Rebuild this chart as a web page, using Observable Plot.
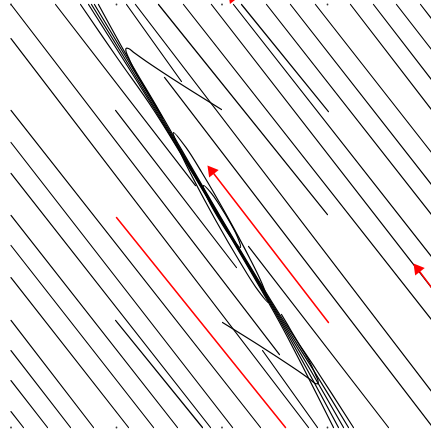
<!DOCTYPE html>
<html>
<head>
<meta charset="utf-8">
<script src="https://cdn.jsdelivr.net/npm/d3@7"></script>
<script src="https://cdn.jsdelivr.net/npm/@observablehq/plot@0.6"></script>
<style>
  html, body { margin: 0; padding: 0; background: #fff; }
  #chart svg { display: block; }
</style>
</head>
<body>
<div id="chart"></div>
<script>
// Streamlines, in data units (axes span -2..2 both ways).
// Left family (flow down-right), each a list of [x, y] points.
const leftFamily = [
  [[-2, -1.849], [-1.882, -2]],
  [[-2, -1.556], [-1.654, -2]],
  [[-2, -1.272], [-1.436, -2]],
  [[-2, -0.988], [-1.218, -2]],
  [[-2, -0.582], [-0.886, -2]],
  [[-2, -0.279], [-0.649, -2]],
  [[-2, 0.005], [-0.422, -2]],
  [[-1.009, -0.988], [-0.185, -2]],
  [[-2, 0.402], [-0.109, -2]],
  [[-2, 0.695], [0.100, -2]],
  [[-2, 0.998], [0.365, -2]],
  [[-2, 1.678], [0.820, -2]],
  [[0.384, -1.272], [0.905, -2]],
  [[-2, 2], [0.545, -1.310]],
  [[-1.009, 0.998], [0.137, -0.487]],
  [[-1.578, 2], [-0.251, 0.288]]
];
// Right family (flow up-left)
const rightFamily = [
  [[2, 1.849], [1.882, 2]],
  [[2, 1.556], [1.654, 2]],
  [[2, 1.272], [1.436, 2]],
  [[2, 0.988], [1.218, 2]],
  [[2, 0.582], [0.886, 2]],
  [[2, 0.279], [0.649, 2]],
  [[2, -0.005], [0.422, 2]],
  [[1.009, 0.988], [0.185, 2]],
  [[2, -0.402], [0.109, 2]],
  [[2, -0.695], [-0.100, 2]],
  [[2, -0.998], [-0.365, 2]],
  [[1.000, 0.014], [-0.602, 2]],
  [[2, -1.678], [-0.820, 2]],
  [[-0.384, 1.272], [-0.905, 2]],
  [[2, -2], [-0.545, 1.310]],
  [[1.578, -2], [0.251, -0.288]]
];
// Hairpin turns at the two ends of the central bundle
const hairpins = [
  [[-0.005, 1.007], [-0.384, 1.243], [-0.716, 1.461], [-0.829, 1.541], [-0.886, 1.584], [-0.910, 1.584],
   [-0.910, 1.556], [-0.886, 1.499], [-0.829, 1.376], [-0.744, 1.234], [-0.659, 1.092], [-0.564, 0.931]],
  [[0.005, -1.007], [0.384, -1.243], [0.716, -1.461], [0.829, -1.541], [0.886, -1.584], [0.910, -1.584],
   [0.910, -1.556], [0.886, -1.499], [0.829, -1.376], [0.744, -1.234], [0.659, -1.092], [0.564, -0.931]]
];
// Central bundle of converging lines
const bundle = [
  [[-1.341, 2], [-0.979, 1.475], [-0.645, 0.998], [-0.038, 0], [0.536, -0.988], [0.784, -1.461], [1.057, -2]],
  [[-1.265, 2], [-0.932, 1.475], [-0.633, 0.998], [-0.033, 0], [0.548, -0.988], [0.812, -1.461], [1.104, -2]],
  [[-1.237, 2], [-0.913, 1.475], [-0.622, 0.998], [-0.028, 0], [0.559, -0.988], [0.841, -1.461], [1.152, -2]],
  [[-1.209, 2], [-0.894, 1.475], [-0.610, 0.998], [-0.024, 0], [0.571, -0.988], [0.869, -1.461], [1.199, -2]],
  [[-1.171, 2], [-0.880, 1.475], [-0.598, 0.998], [-0.019, 0], [0.583, -0.988], [0.898, -1.461], [1.246, -2]]
];
// Closed thin orbits around the centre
const loops = [
  [[-0.460, 0.790], [-0.340, 0.646], [-0.191, 0.411], [0.040, 0.013], [0.259, -0.392], [0.380, -0.640],
   [0.441, -0.818], [0.321, -0.674], [0.173, -0.440], [-0.059, -0.042], [-0.278, 0.364], [-0.399, 0.612]],
  [[-0.175, 0.288], [-0.100, 0.215], [0.032, 0.014], [0.146, -0.196],
   [0.175, -0.298], [0.100, -0.224], [-0.032, -0.024], [-0.146, 0.186]]
];
// Highlighted trajectories
const redPaths = [
  [[-1.000, -0.014], [0.602, -2]],
  [[1.009, -1.007], [-0.077, 0.399]],
  [[2, -0.695], [1.876, -0.528]]
];
// Arrow heads: [x, y, angle in degrees]
const redHeads = [
  [-0.097, 0.426, -38],
  [1.856, -0.501, -38],
  [0.100, 2.066, -38]
];
const xTicks = [-2, -1, 0, 1, 2];
const tickRows = [2, -2];

const rows = (paths) => paths.flatMap((p, i) => p.map(([x, y]) => ({x, y, id: i})));

const chart = Plot.plot({
  width: 431,
  height: 431,
  marginLeft: 10,
  marginTop: 4,
  marginBottom: 4,
  marginRight: 0,
  x: {domain: [-2, 2], range: [10.5, 432.5], axis: null},
  y: {domain: [-2, 2], range: [427, 4], axis: null},
  marks: [
    Plot.line(rows(leftFamily.concat(rightFamily)), {x: "x", y: "y", z: "id", stroke: "black", strokeWidth: 1.2}),
    Plot.line(rows(bundle), {x: "x", y: "y", z: "id", stroke: "black", strokeWidth: 1.2, curve: "catmull-rom"}),
    Plot.line(rows(hairpins), {x: "x", y: "y", z: "id", stroke: "black", strokeWidth: 1.2, curve: "catmull-rom"}),
    Plot.line(rows(loops), {x: "x", y: "y", z: "id", stroke: "black", strokeWidth: 1.2, curve: "catmull-rom-closed"}),
    Plot.line(rows(redPaths), {x: "x", y: "y", z: "id", stroke: "red", strokeWidth: 1.5}),
    Plot.dot(redHeads, {x: d => d[0], y: d => d[1], rotate: d => d[2], symbol: "triangle", r: 4.5, fill: "red", stroke: "none"}),
    Plot.dot(tickRows.flatMap(y => xTicks.map(x => ({x, y}))), {x: "x", y: "y", r: 0.9, fill: "#333", stroke: "none"})
  ]
});
document.getElementById("chart").appendChild(chart);
</script>
</body>
</html>
